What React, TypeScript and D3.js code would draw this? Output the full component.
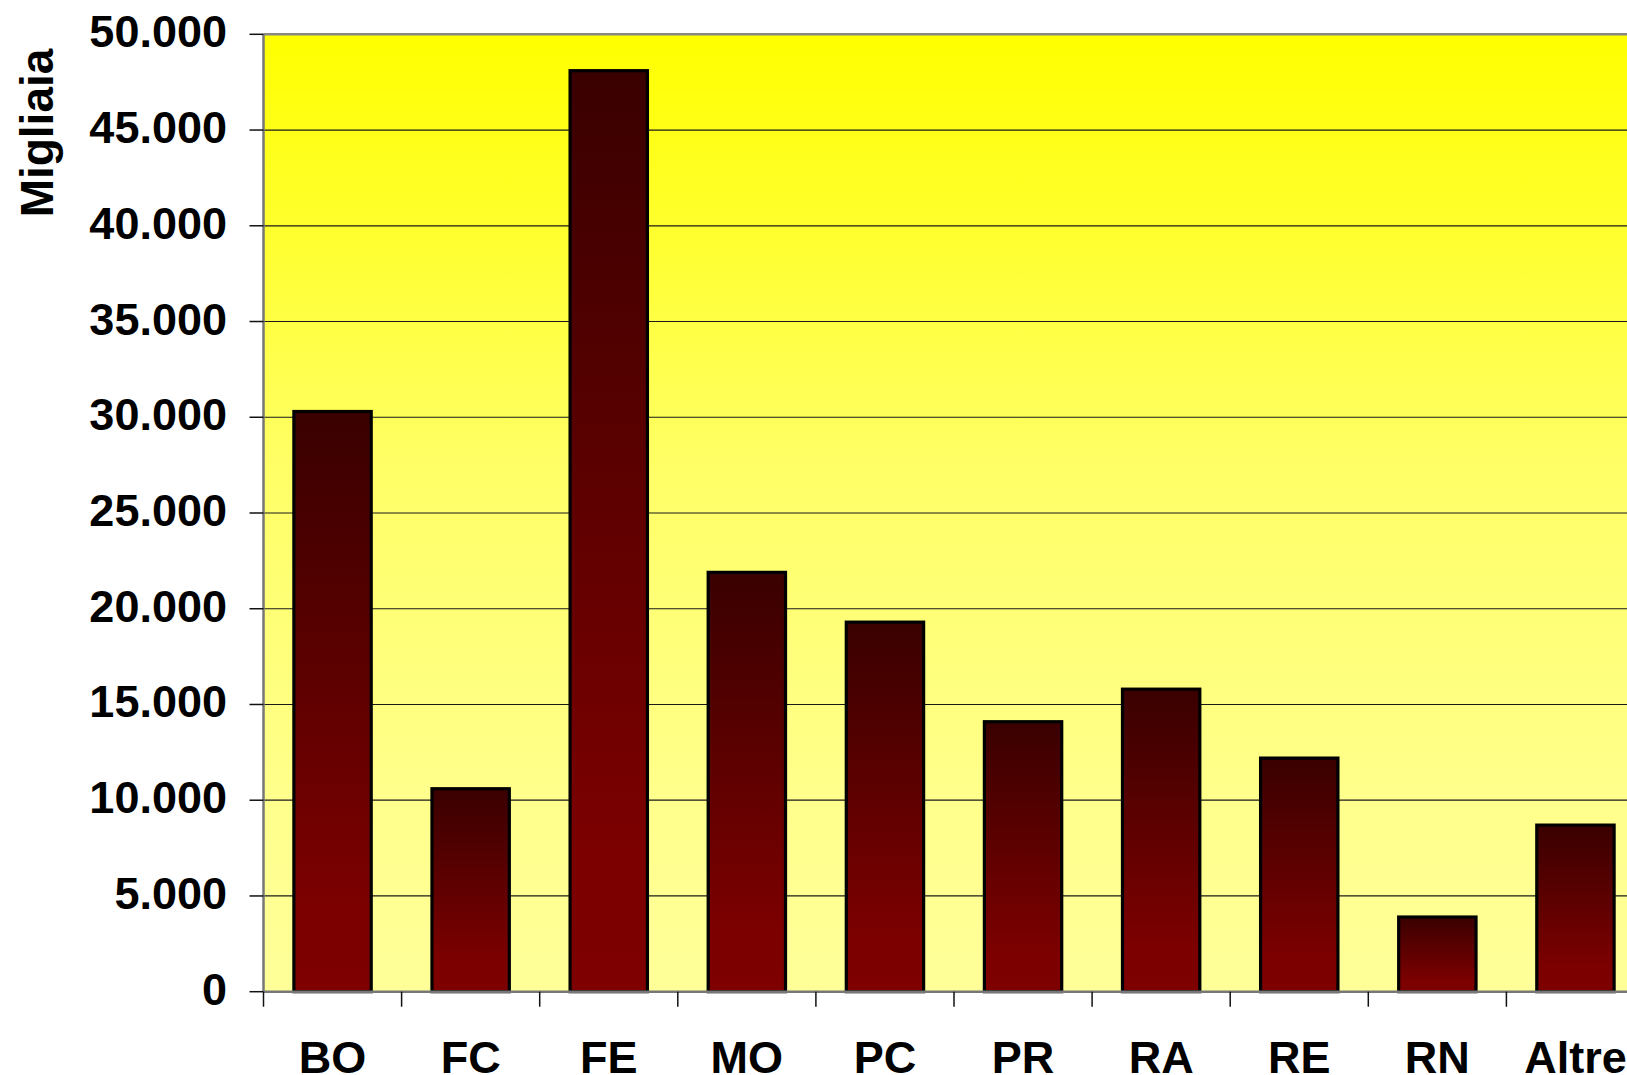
import React from "react";
import * as d3 from "d3";

const categories = ["BO", "FC", "FE", "MO", "PC", "PR", "RA", "RE", "RN", "Altre"];
const values = [30300, 10600, 48100, 21900, 19300, 14100, 15800, 12200, 3900, 8700];
const yTicks = [0, 5000, 10000, 15000, 20000, 25000, 30000, 35000, 40000, 45000, 50000];
const yLabel = "Migliaia";

const W = 1627;
const H = 1075;
const plotLeft = 263.5;
const plotTop = 34.3;
const plotBottom = 991.7;
const step = 138.1;
const plotRight = plotLeft + step * categories.length;
const FONT = "'Liberation Sans', Arial, Helvetica, sans-serif";

export default function App() {
  const x = d3
    .scaleBand<string>()
    .domain(categories)
    .range([plotLeft, plotRight])
    .paddingInner(0.44)
    .paddingOuter(0.22);
  const y = d3.scaleLinear().domain([0, 50000]).range([plotBottom, plotTop]);
  const fmt = (v: number) => d3.format(",")(v).replace(/,/g, ".");
  const xTickPos = d3.range(categories.length + 1).map((i) => plotLeft + i * x.step());

  return (
    <svg
      width={W}
      height={H}
      style={{ position: "absolute", left: 0, top: 0, background: "#fff", overflow: "hidden" }}
    >
      <defs>
        <linearGradient id="bg" x1="0" y1="0" x2="0" y2="1">
          <stop offset="0" stopColor="#FFFF00" />
          <stop offset="0.45" stopColor="#FFFF66" />
          <stop offset="0.8" stopColor="#FFFF8C" />
          <stop offset="1" stopColor="#FFFF99" />
        </linearGradient>
        <linearGradient id="bar" x1="0" y1="0" x2="0" y2="1">
          <stop offset="0" stopColor="#3A0000" />
          <stop offset="0.85" stopColor="#7C0000" />
          <stop offset="1" stopColor="#7E0000" />
        </linearGradient>
      </defs>

      {/* plot background */}
      <rect x={plotLeft} y={plotTop} width={plotRight - plotLeft} height={plotBottom - plotTop} fill="url(#bg)" />

      {/* gridlines */}
      {yTicks
        .filter((t) => t > 0 && t < 50000)
        .map((t) => (
          <line key={t} x1={plotLeft} x2={plotRight} y1={y(t)} y2={y(t)} stroke="#1a1a1a" strokeWidth={1.2} />
        ))}

      {/* bars */}
      {categories.map((c, i) => (
        <rect
          key={c}
          x={x(c)}
          y={y(values[i])}
          width={x.bandwidth()}
          height={y(0) - y(values[i])}
          fill="url(#bar)"
          stroke="#000"
          strokeWidth={3.2}
        />
      ))}

      {/* frame */}
      <line x1={plotLeft} x2={plotRight} y1={plotTop} y2={plotTop} stroke="#888" strokeWidth={2.5} />
      <line x1={plotLeft} x2={plotLeft} y1={plotTop} y2={plotBottom} stroke="#777" strokeWidth={2.5} />
      <line x1={plotLeft} x2={plotRight} y1={plotBottom} y2={plotBottom} stroke="#777" strokeWidth={2.5} />

      {/* y ticks + labels */}
      {yTicks.map((t) => (
        <g key={t}>
          <line x1={plotLeft - 14} x2={plotLeft} y1={y(t)} y2={y(t)} stroke="#111" strokeWidth={1.5} />
          <text
            x={227}
            y={y(t) + 13}
            textAnchor="end"
            fontFamily={FONT}
            fontWeight="bold"
            fontSize={45}
            fill="#000"
          >
            {fmt(t)}
          </text>
        </g>
      ))}

      {/* x ticks */}
      {xTickPos.map((p, i) => (
        <line key={i} x1={p} x2={p} y1={plotBottom} y2={plotBottom + 15} stroke="#111" strokeWidth={1.5} />
      ))}

      {/* x labels */}
      {categories.map((c) => (
        <text
          key={c}
          x={(x(c) as number) + x.bandwidth() / 2}
          y={1073}
          textAnchor="middle"
          fontFamily={FONT}
          fontWeight="bold"
          fontSize={45}
          fill="#000"
        >
          {c}
        </text>
      ))}

      {/* y axis title */}
      <text
        transform={`translate(53, ${(46 + 220) / 2}) rotate(-90)`}
        textAnchor="middle"
        fontFamily={FONT}
        fontWeight="bold"
        fontSize={46}
        fill="#000"
      >
        {yLabel}
      </text>
    </svg>
  );
}
